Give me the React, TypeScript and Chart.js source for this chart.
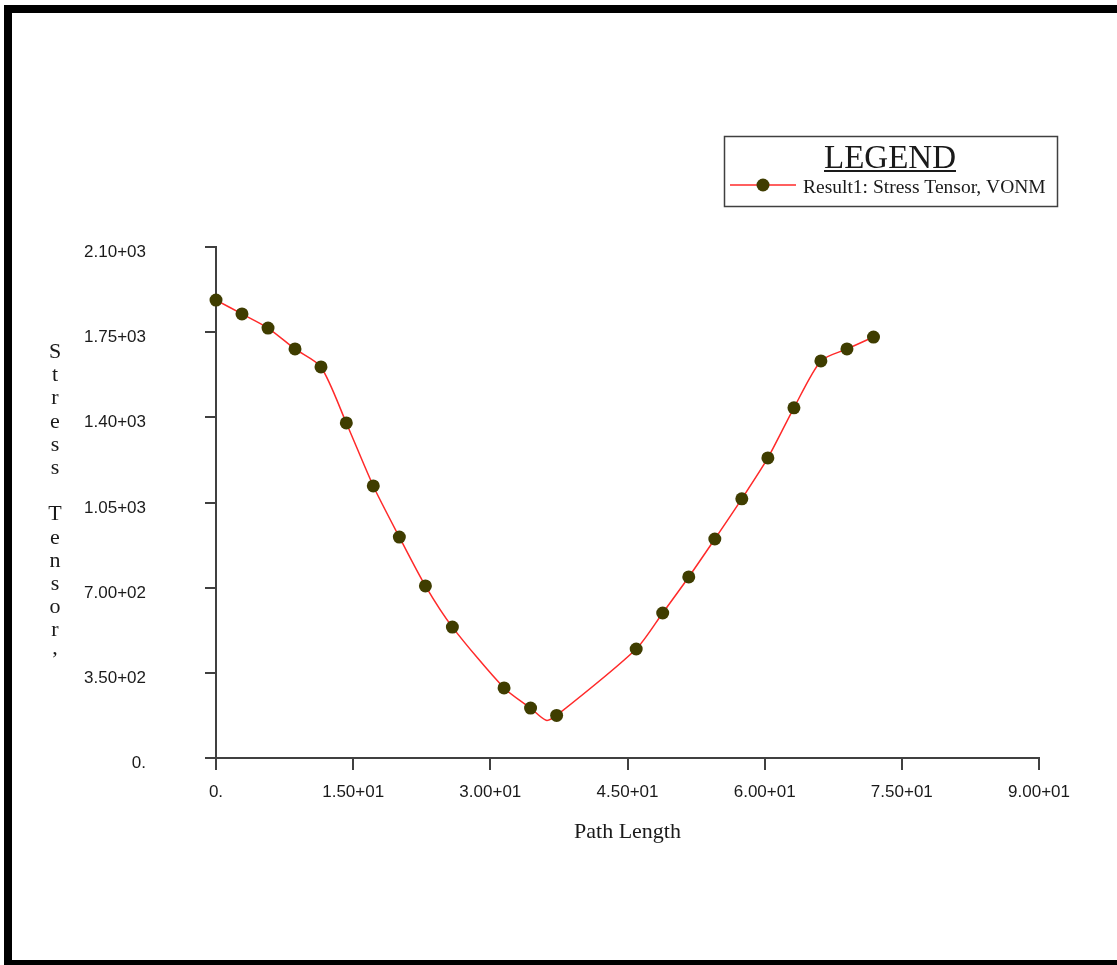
import React, { useEffect, useRef } from 'react';
import { Chart, registerables } from 'chart.js';

Chart.register(...registerables);

// ---- data ----
const markerX = [0, 2.84, 5.69, 8.64, 11.48, 14.25, 17.2, 20.05, 22.9, 25.85, 31.5, 34.4, 37.25, 45.95, 48.85, 51.7, 54.55, 57.5, 60.35, 63.2, 66.15, 69.0, 71.9];
const markerY = [1882, 1825, 1767, 1681, 1607, 1377, 1118, 908, 707, 538, 288, 205, 175, 448, 596, 744, 900, 1065, 1233, 1439, 1632, 1681, 1730];
const lineX = [0, 2.84, 5.69, 8.64, 11.48, 14.25, 17.2, 20.05, 22.9, 25.85, 31.5, 34.4, 36.1, 37.25, 45.95, 48.85, 51.7, 54.55, 57.5, 60.35, 63.2, 66.15, 69.0, 71.9];
const lineY = [1882, 1825, 1767, 1681, 1607, 1377, 1118, 908, 707, 538, 288, 205, 155, 175, 448, 596, 744, 900, 1065, 1233, 1439, 1632, 1681, 1730];

const xTicks = [0, 15, 30, 45, 60, 75, 90];
const xTickLabels = ['0.', '1.50+01', '3.00+01', '4.50+01', '6.00+01', '7.50+01', '9.00+01'];
const yTicks = [0, 350, 700, 1050, 1400, 1750, 2100];
const yTickLabels = ['0.', '3.50+02', '7.00+02', '1.05+03', '1.40+03', '1.75+03', '2.10+03'];

const xTitle = 'Path Length';
const yTitle = 'Stress Tensor,';
const legendTitle = 'LEGEND';
const seriesName = 'Result1: Stress Tensor, VONM';

const LINE_COLOR = '#ff2a2a';
const MARKER_COLOR = '#3f3d00';
const AXIS_COLOR = '#404040';
const TEXT_COLOR = '#1a1a1a';
const SERIF = '"Liberation Serif", "Times New Roman", serif';
const SANS = '"Liberation Sans", Arial, sans-serif';

const decorPlugin = {
  id: 'decor',
  beforeDraw(chart: any) {
    const ctx = chart.ctx;
    ctx.save();
    ctx.fillStyle = '#ffffff';
    ctx.fillRect(0, 0, chart.width, chart.height);
    ctx.fillStyle = '#000000';
    ctx.fillRect(4, 5, 8, chart.height - 5);
    ctx.fillRect(4, 5, chart.width - 4, 8);
    ctx.fillRect(4, 960, chart.width - 4, 5);
    ctx.restore();
  },
  afterDraw(chart: any) {
    const ctx = chart.ctx;
    const xs = chart.scales.x;
    const ys = chart.scales.y;
    ctx.save();
    ctx.fillStyle = TEXT_COLOR;

    // tick labels
    ctx.font = `17px ${SANS}`;
    ctx.textBaseline = 'alphabetic';
    ctx.textAlign = 'center';
    xTicks.forEach((v, i) => {
      ctx.fillText(xTickLabels[i], xs.getPixelForValue(v), 797);
    });
    ctx.textAlign = 'right';
    yTicks.forEach((v, i) => {
      ctx.fillText(yTickLabels[i], 146, ys.getPixelForValue(v) + 10);
    });

    // x title
    ctx.font = `22px ${SERIF}`;
    ctx.textAlign = 'center';
    ctx.fillText(xTitle, (chart.chartArea.left + chart.chartArea.right) / 2, 838);

    // y title: stacked letters
    ctx.font = `22px ${SERIF}`;
    ctx.textAlign = 'center';
    const chars = yTitle.split('');
    chars.forEach((c, i) => {
      const base = 358 + i * 23.2;
      ctx.fillText(c, 55, c === ',' ? base - 6 : base);
    });

    // legend box
    ctx.strokeStyle = AXIS_COLOR;
    ctx.lineWidth = 1.5;
    ctx.strokeRect(724.5, 136.5, 333, 70);
    ctx.font = `33px ${SERIF}`;
    ctx.textAlign = 'center';
    ctx.fillText(legendTitle, 890, 168);
    const w = ctx.measureText(legendTitle).width;
    ctx.fillRect(890 - w / 2, 170, w, 2);

    ctx.strokeStyle = LINE_COLOR;
    ctx.lineWidth = 1.5;
    ctx.beginPath();
    ctx.moveTo(730, 185);
    ctx.lineTo(796, 185);
    ctx.stroke();
    ctx.fillStyle = MARKER_COLOR;
    ctx.beginPath();
    ctx.arc(763, 185, 6.5, 0, Math.PI * 2);
    ctx.fill();

    ctx.fillStyle = TEXT_COLOR;
    ctx.font = `19.5px ${SERIF}`;
    ctx.textAlign = 'left';
    ctx.fillText(seriesName, 803, 193, 246);
    ctx.restore();
  },
};

export default function App() {
  const ref = useRef<HTMLCanvasElement | null>(null);
  useEffect(() => {
    if (!ref.current) return;
    const chart = new Chart(ref.current, {
      type: 'scatter',
      data: {
        datasets: [
          {
            label: seriesName,
            data: markerX.map((x, i) => ({ x, y: markerY[i] })),
            showLine: false,
            pointRadius: 6.5,
            pointHoverRadius: 6.5,
            pointBackgroundColor: MARKER_COLOR,
            pointBorderWidth: 0,
            order: 0,
            clip: false as any,
          },
          {
            label: 'line',
            data: lineX.map((x, i) => ({ x, y: lineY[i] })),
            showLine: true,
            borderColor: LINE_COLOR,
            borderWidth: 1.5,
            tension: 0.25,
            pointRadius: 0,
            pointHoverRadius: 0,
            order: 1,
            clip: false as any,
          },
        ],
      },
      options: {
        animation: false,
        responsive: false,
        maintainAspectRatio: false,
        events: [],
        layout: { padding: { top: 247, right: 78, left: 0, bottom: 0 } },
        plugins: { legend: { display: false }, tooltip: { enabled: false } },
        scales: {
          x: {
            type: 'linear',
            min: 0,
            max: 90,
            afterBuildTicks: (s: any) => {
              s.ticks = xTicks.map((v) => ({ value: v }));
            },
            afterFit: (s: any) => {
              s.height = 207;
            },
            ticks: { display: false },
            grid: {
              display: true,
              drawOnChartArea: false,
              drawTicks: true,
              tickLength: 12,
              color: AXIS_COLOR,
              lineWidth: 2,
            },
            border: { display: true, color: AXIS_COLOR, width: 2 },
          },
          y: {
            type: 'linear',
            min: 0,
            max: 2100,
            afterBuildTicks: (s: any) => {
              s.ticks = yTicks.map((v) => ({ value: v }));
            },
            afterFit: (s: any) => {
              s.width = 216;
            },
            ticks: { display: false },
            grid: {
              display: true,
              drawOnChartArea: false,
              drawTicks: true,
              tickLength: 11,
              color: AXIS_COLOR,
              lineWidth: 2,
            },
            border: { display: true, color: AXIS_COLOR, width: 2 },
          },
        },
      },
      plugins: [decorPlugin],
    } as any);
    return () => chart.destroy();
  }, []);

  return (
    <div style={{ position: 'absolute', left: 0, top: 0, width: 1117, height: 965 }}>
      <canvas ref={ref} width={1117} height={965} style={{ width: 1117, height: 965, display: 'block' }} />
    </div>
  );
}
